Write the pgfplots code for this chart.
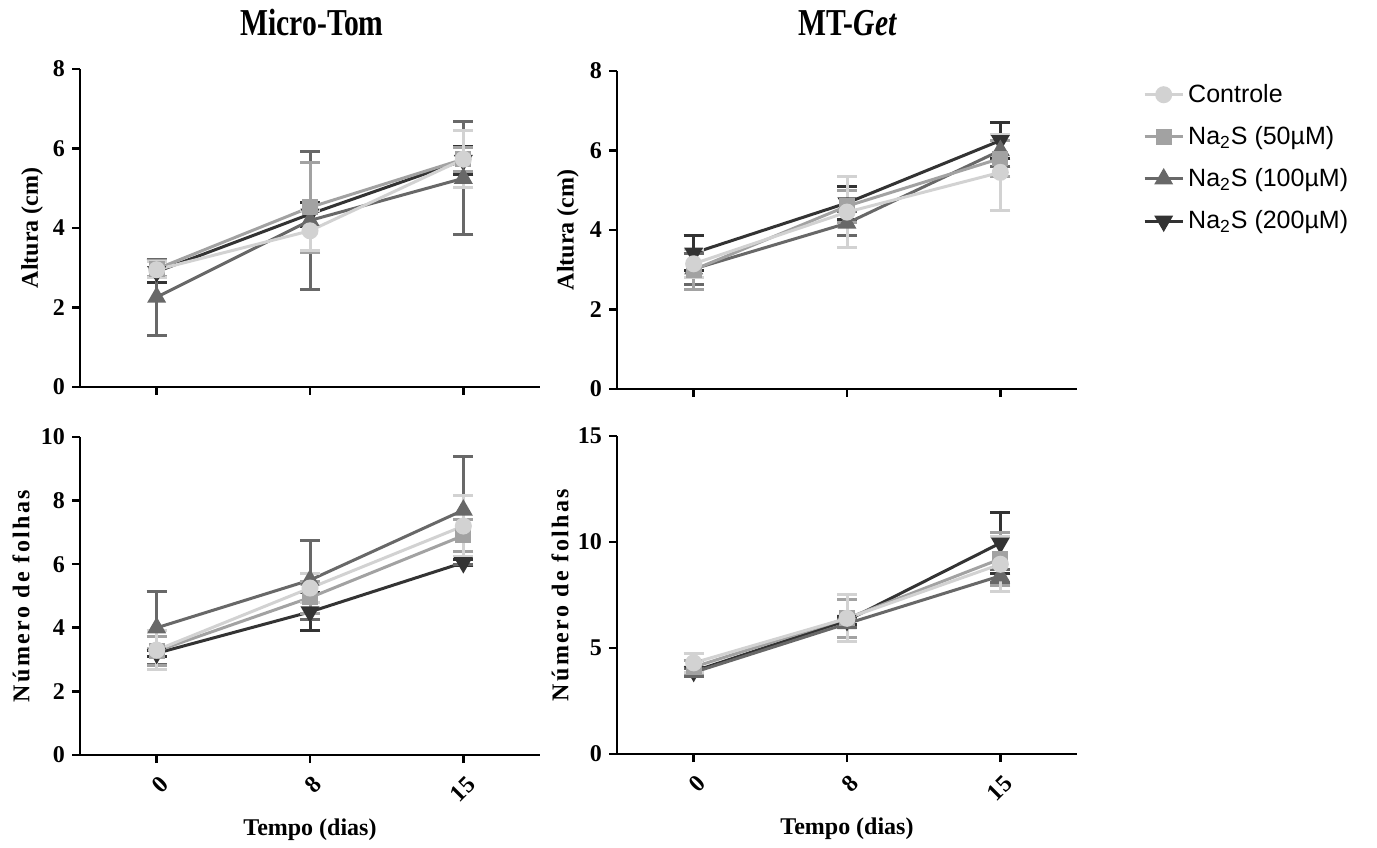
\documentclass[border=0pt]{standalone}
\usepackage{fontspec}
\setmainfont{Liberation Serif}
\newfontfamily\legendfont{Liberation Sans}
\newfontfamily\spacedfont[LetterSpace=10]{Liberation Serif}
\usepackage{pgfplots}
\pgfplotsset{compat=1.18}
\definecolor{cC}{HTML}{D2D2D2}
\definecolor{c50}{HTML}{A2A2A2}
\definecolor{c100}{HTML}{686868}
\definecolor{c200}{HTML}{333333}
\pgfplotsset{
  panel/.style={
    scale only axis, width=230pt, height=159pt,
    axis x line*=bottom, axis y line*=left,
    axis line style={line width=1.3pt, -},
    tick align=outside, major tick length=4pt,
    every tick/.style={line width=1.3pt, black},
    xmin=-0.5, xmax=2.5, xtick={0,1,2}, xticklabels={0,8,15},
    ymin=0,
    /pgf/number format/assume math mode=true,
    ticklabel style={font=\bfseries\fontsize{12}{14}\selectfont},
    xticklabel style={rotate=45, anchor=east, yshift=-9pt, xshift=0pt},
    label style={font=\bfseries\fontsize{12}{14}\selectfont},
    xlabel style={at={(axis description cs:0.5,0)}, anchor=center, yshift=-37.5pt},
    every axis plot/.append style={line width=1.5pt},
    error bars/y dir=both, error bars/y explicit,
    error bars/error bar style={line width=1.5pt},
    error bars/error mark options={rotate=90, mark size=5pt, line width=1.5pt},
    legend image code/.code={\draw[mark repeat=2,mark phase=2,#1] plot coordinates {(0pt,0pt)(9.5pt,0pt)(19pt,0pt)};},
  },
  sC/.style={color=cC, mark=*, mark size=3.5pt},
  s50/.style={color=c50, mark=square*, mark size=3.2pt},
  s100/.style={color=c100, mark=triangle*, mark size=4pt},
  s200/.style={color=c200, mark=triangle*, mark size=4pt, mark options={rotate=180}},
}
\begin{document}
\begin{tikzpicture}
\useasboundingbox (0,0) rectangle (688.5pt,423.5pt);
\node at (156pt,412pt) {\scalebox{0.78}[1]{\bfseries\fontsize{19}{21}\selectfont Micro-Tom}};
\node at (424pt,412pt) {\scalebox{0.78}[1]{\bfseries\fontsize{19}{21}\selectfont MT-\textit{Get}}};
% Top-left
\begin{axis}[panel, at={(40pt,230pt)}, anchor=south west, ymax=8, ytick={0,2,4,6,8}, ylabel={Altura (cm)},
  ylabel style={at={(axis description cs:-0.104,0.5)}, anchor=center}, xticklabels={}]
\addplot[s200] coordinates {(0,2.9) +- (0,0.27) (1,4.35) +- (0,0.3) (2,5.7) +- (0,0.35)};
\addplot[s100] coordinates {(0,2.26) +- (0,0.96) (1,4.19) +- (0,1.73) (2,5.25) +- (0,1.42)};
\addplot[s50] coordinates {(0,2.97) +- (0,0.2) (1,4.52) +- (0,1.13) (2,5.73) +- (0,0.3)};
\addplot[sC] coordinates {(0,2.95) +- (0,0.2) (1,3.93) +- (0,0.5) (2,5.73) +- (0,0.72)};
\end{axis}
% Top-right
\begin{axis}[panel, at={(308.5pt,229pt)}, anchor=south west, ymax=8, ytick={0,2,4,6,8}, ylabel={Altura (cm)},
  ylabel style={at={(axis description cs:-0.107,0.5)}, anchor=center}, xticklabels={},
  reverse legend, legend style={at={(1.13,0.985)}, anchor=north west, draw=none, fill=none, font=\legendfont\fontsize{12.5}{14}\selectfont, row sep=6.5pt, legend cell align=left}]
\addplot[s200] coordinates {(0,3.42) +- (0,0.45) (1,4.68) +- (0,0.42) (2,6.25) +- (0,0.45)};
\addlegendentry{Na\textsubscript{2}S (200µM)}
\addplot[s100] coordinates {(0,3.02) +- (0,0.4) (1,4.17) +- (0,0.3) (2,6.0) +- (0,0.4)};
\addlegendentry{Na\textsubscript{2}S (100µM)}
\addplot[s50] coordinates {(0,3.0) +- (0,0.5) (1,4.6) +- (0,0.4) (2,5.8) +- (0,0.45)};
\addlegendentry{Na\textsubscript{2}S (50µM)}
\addplot[sC] coordinates {(0,3.15) +- (0,0.35) (1,4.45) +- (0,0.9) (2,5.45) +- (0,0.95)};
\addlegendentry{Controle}
\end{axis}
% Bottom-left
\begin{axis}[panel, at={(40pt,46pt)}, anchor=south west, ymax=10, ytick={0,2,4,6,8,10},
  ylabel={\spacedfont\bfseries Número de folhas},
  ylabel style={at={(axis description cs:-0.128,0.5)}, anchor=center}, xlabel={Tempo (dias)}]
\addplot[s200] coordinates {(0,3.2) +- (0,0.1) (1,4.5) +- (0,0.6) (2,6.05) +- (0,0.1)};
\addplot[s100] coordinates {(0,4.0) +- (0,1.15) (1,5.5) +- (0,1.25) (2,7.7) +- (0,1.7)};
\addplot[s50] coordinates {(0,3.27) +- (0,0.45) (1,4.95) +- (0,0.5) (2,6.9) +- (0,0.5)};
\addplot[sC] coordinates {(0,3.3) +- (0,0.6) (1,5.25) +- (0,0.45) (2,7.2) +- (0,0.95)};
\end{axis}
% Bottom-right
\begin{axis}[panel, at={(308.5pt,46.5pt)}, anchor=south west, ymax=15, ytick={0,5,10,15},
  ylabel={\spacedfont\bfseries Número de folhas},
  ylabel style={at={(axis description cs:-0.124,0.5)}, anchor=center}, xlabel={Tempo (dias)}]
\addplot[s200] coordinates {(0,3.9) +- (0,0.2) (1,6.3) +- (0,0.2) (2,9.95) +- (0,1.45)};
\addplot[s100] coordinates {(0,3.85) +- (0,0.2) (1,6.15) +- (0,0.2) (2,8.4) +- (0,0.3)};
\addplot[s50] coordinates {(0,4.1) +- (0,0.3) (1,6.4) +- (0,0.9) (2,9.2) +- (0,1.25)};
\addplot[sC] coordinates {(0,4.3) +- (0,0.45) (1,6.4) +- (0,1.1) (2,8.95) +- (0,1.3)};
\end{axis}
\end{tikzpicture}
\end{document}
